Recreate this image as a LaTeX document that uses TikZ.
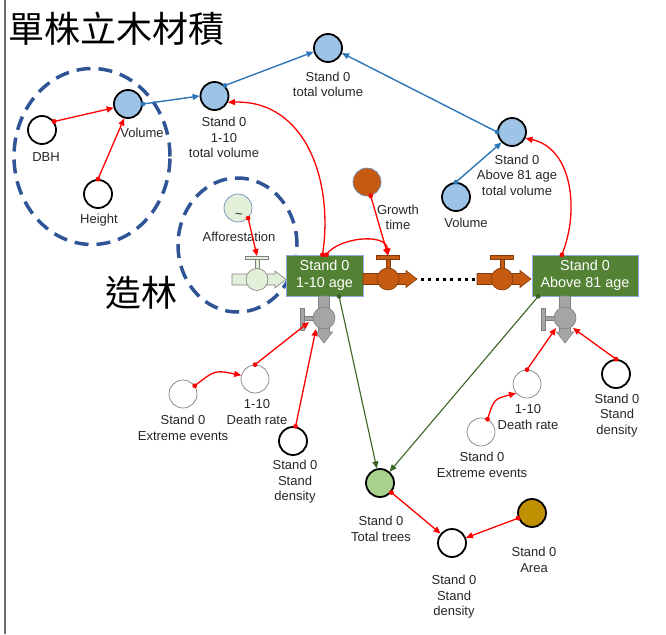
\documentclass[tikz,border=0pt]{standalone}
\usepackage{fontspec}
\setmainfont{Liberation Sans}
\newfontfamily\cjk{Noto Sans CJK TC}
\usetikzlibrary{arrows.meta}

\definecolor{linkred}{HTML}{FF0000}
\definecolor{linkblue}{HTML}{2E75B6}
\definecolor{linkgreen}{HTML}{3B6324}
\definecolor{zoneblue}{HTML}{2F5597}
\definecolor{volblue}{HTML}{9DC3E6}
\definecolor{stockgreen}{HTML}{548235}
\definecolor{stockedge}{HTML}{8FAADC}
\definecolor{treegreen}{HTML}{A9D18E}
\definecolor{areagold}{HTML}{BF9000}
\definecolor{groworange}{HTML}{C55A11}
\definecolor{growedge}{HTML}{843C0C}
\definecolor{sourcegreen}{HTML}{E2F0D9}
\definecolor{valvegray}{HTML}{A5A5A5}
\definecolor{valveedge}{HTML}{7F7F7F}
\definecolor{softedge}{HTML}{6F8FBF}
\definecolor{labeltext}{HTML}{262626}
\definecolor{framegray}{HTML}{6E6E6E}

% horizontal pipe with an arrow head: x start, x tip, y, fill, stroke
\newcommand\hpipe[5]{%
  \filldraw[fill=#4,draw=#5,line width=0.6pt]
    (#1,#3-5.5) -- (#2-11,#3-5.5) -- (#2-11,#3-8.5) -- (#2,#3)
    -- (#2-11,#3+8.5) -- (#2-11,#3+5.5) -- (#1,#3+5.5) -- cycle;}
% valve handle standing on top of a horizontal pipe: x, y, fill, stroke
\newcommand\uphandle[4]{%
  \filldraw[fill=#3,draw=#4,line width=0.6pt] (#1-2,#2-10) rectangle (#1+2,#2-20);
  \filldraw[fill=#3,draw=#4,line width=0.6pt] (#1-11.5,#2-20) rectangle (#1+11.5,#2-23.5);}
% vertical pipe pointing down: x, y start, y tip, fill, stroke
\newcommand\vpipe[5]{%
  \filldraw[fill=#4,draw=#5,line width=0.6pt]
    (#1-5.5,#2) -- (#1-5.5,#3-11) -- (#1-8.5,#3-11) -- (#1,#3)
    -- (#1+8.5,#3-11) -- (#1+5.5,#3-11) -- (#1+5.5,#2) -- cycle;}
% valve handle on the left side of a vertical pipe: x, y, fill, stroke
\newcommand\lefthandle[4]{%
  \filldraw[fill=#3,draw=#4,line width=0.6pt] (#1-10,#2-2) rectangle (#1-20,#2+2);
  \filldraw[fill=#3,draw=#4,line width=0.6pt] (#1-20,#2-10) rectangle (#1-23.5,#2+12);}
% round dot marking where a link leaves its source: colour, point
\newcommand\linkdot[2]{\fill[#1] #2 circle[radius=2.4pt];}

\begin{document}
\begin{tikzpicture}[x=1pt,y=-1pt,
  circ/.style={circle,minimum size=28pt,inner sep=0pt,draw=black,line width=1.8pt},
  thincirc/.style={circle,minimum size=28pt,inner sep=0pt,draw=valveedge,line width=0.7pt,fill=white},
  softcirc/.style={circle,minimum size=28pt,inner sep=0pt,draw=softedge,line width=0.7pt},
  valvecirc/.style={circle,minimum size=22pt,inner sep=0pt,line width=0.6pt},
  lbl/.style={font=\fontsize{13}{15.5}\selectfont,align=center,inner sep=0pt,text=labeltext},
  stock/.style={rectangle,fill=stockgreen,draw=stockedge,line width=0.6pt,text=white,
    align=center,font=\fontsize{14.4}{17}\selectfont,inner sep=0pt,minimum height=41pt},
  cjktitle/.style={font=\cjk\fontsize{36}{40}\selectfont,inner sep=0pt,text=black},
  zone/.style={draw=zoneblue,line width=3.5pt,dash pattern=on 14pt off 8pt},
  redln/.style={draw=linkred,line width=1.3pt,-{Triangle[length=7pt,width=6pt]}},
  blueln/.style={draw=linkblue,line width=1.4pt,-{Triangle[length=7pt,width=6pt]}},
  greenln/.style={draw=linkgreen,line width=1.1pt,-{Triangle[length=7pt,width=6pt]}},
  dotline/.style={draw=black,line width=3pt,dash pattern=on 3pt off 4.3pt}
]
\useasboundingbox (0,0) rectangle (666,634);

% frame line on the left
\draw[framegray,line width=1.6pt] (5,0) -- (5,634);

% headings
\node[cjktitle,anchor=west] (title) at (8,29) {單株立木材積};
\node[cjktitle] (afftitle) at (141.5,293) {造林};

% dashed grouping zones
\draw[zone] (92,156.5) ellipse [x radius=78pt, y radius=88pt];
\draw[zone] (237.5,245) ellipse [x radius=59.5pt, y radius=67pt];

% ---- single tree volume ----
\node[circ,fill=white] (dbh) at (42,130) {};
\node[lbl] (dbhl) at (46,157) {DBH};
\node[circ,fill=white] (hgt) at (98,194) {};
\node[lbl] (hgtl) at (99,220) {Height};
\node[circ,fill=volblue] (vol) at (128,104) {};
\node[lbl] (voll) at (142,133) {Volume};

% ---- stand volumes ----
\node[circ,fill=volblue] (v110) at (214.5,96) {};
\node[lbl] (v110l) at (224,137.5) {Stand 0\\1-10\\total volume};
\node[circ,fill=volblue] (tv) at (328,48) {};
\node[lbl] (tvl) at (328,84.5) {Stand 0\\total volume};
\node[circ,fill=volblue] (a81) at (512,132) {};
\node[lbl] (a81l) at (517,175) {Stand 0\\Above 81 age\\total volume};
\node[circ,fill=volblue] (volr) at (456,197) {};
\node[lbl] (volrl) at (466,223) {Volume};

% ---- auxiliaries of the flows ----
\node[softcirc,fill=groworange] (gt) at (367,182) {};
\node[lbl] (gtl) at (398,217.5) {Growth\\time};
\node[softcirc,fill=sourcegreen] (af) at (238,208) {};
\node[font=\fontsize{13}{14}\selectfont,inner sep=0pt,text=labeltext] (afsign) at (239,216) {\char"7E};
\node[lbl] (afl) at (239,237) {Afforestation};

% ---- stocks ----
\node[stock,minimum width=77pt] (b1) at (324.5,275.5) {Stand 0\\1-10 age};
\node[stock,minimum width=106pt] (b2) at (585,275.5) {Stand 0\\Above 81 age};

% ---- flows with valves ----
% afforestation inflow
\hpipe{232}{286}{279.5}{sourcegreen}{valveedge}
\uphandle{257}{279.5}{sourcegreen}{valveedge}
\node[valvecirc,fill=sourcegreen,draw=valveedge] (vaf) at (257,279.5) {};
\coordinate (vafh) at (257,256);
% growth outflow of the first class
\hpipe{363}{417}{279}{groworange}{growedge}
\uphandle{388}{279}{groworange}{growedge}
\node[valvecirc,fill=groworange,draw=growedge] (vg1) at (388,279) {};
\coordinate (vg1h) at (388,255.5);
\coordinate (vg1t) at (421,279);
% growth inflow of the last class
\hpipe{477}{531}{279}{groworange}{growedge}
\uphandle{502}{279}{groworange}{growedge}
\node[valvecirc,fill=groworange,draw=growedge] (vg2) at (502,279) {};
\coordinate (vg2s) at (476,279);
\draw[dotline] (vg1t) -- (vg2s);
% death outflows
\vpipe{324}{296}{343}{valvegray}{valveedge}
\lefthandle{324}{318}{valvegray}{valveedge}
\node[valvecirc,fill=valvegray,draw=valveedge] (vd1) at (324,318) {};
\coordinate (vd1a) at (309,322);
\coordinate (vd1b) at (316,329);
\vpipe{565}{296}{343}{valvegray}{valveedge}
\lefthandle{565}{318}{valvegray}{valveedge}
\node[valvecirc,fill=valvegray,draw=valveedge] (vd2) at (565,318) {};
\coordinate (vd2a) at (556,328);
\coordinate (vd2b) at (573,328);

% ---- death of the first class ----
\node[thincirc] (ee1) at (183,394) {};
\node[lbl] (ee1l) at (183,428) {Stand 0\\Extreme events};
\node[thincirc] (dr1) at (255,379) {};
\node[lbl] (dr1l) at (257,412) {1-10\\Death rate};
\node[circ,fill=white] (sd1) at (293,441) {};
\node[lbl] (sd1l) at (295,482) {Stand 0\\Stand\\density};

% ---- death of the last class ----
\node[thincirc] (ee2) at (481,432) {};
\node[lbl] (ee2l) at (482,465) {Stand 0\\Extreme events};
\node[thincirc] (dr2) at (527,384) {};
\node[lbl] (dr2l) at (528,417) {1-10\\Death rate};
\node[circ,fill=white] (sd2) at (616,374) {};
\node[lbl] (sd2l) at (617,415.5) {Stand 0\\Stand\\density};

% ---- trees and density ----
\node[circ,fill=treegreen] (tt) at (380,483) {};
\node[lbl] (ttl) at (381,529) {Stand 0\\Total trees};
\node[circ,fill=white] (sdb) at (452,543) {};
\node[lbl] (sdbl) at (454,597) {Stand 0\\Stand\\density};
\node[circ,fill=areagold] (ar) at (532,513) {};
\node[lbl] (arl) at (534,560) {Stand 0\\Area};

% ---- links ----
\draw[redln] (dbh.35) -- (vol.195);          \linkdot{linkred}{(dbh.35)}
\draw[redln] (hgt.north) -- (vol.255);       \linkdot{linkred}{(hgt.north)}
\draw[blueln] (vol.east) -- (v110.west);     \linkdot{linkblue}{(vol.east)}
\draw[blueln] (v110.45) -- (tv.195);         \linkdot{linkblue}{(v110.45)}
\draw[blueln] (a81.west) -- (tv.-20);        \linkdot{linkblue}{(a81.west)}
\draw[blueln] (volr.north) -- (a81.225);     \linkdot{linkblue}{(volr.north)}

\draw[redln] ([xshift=-2pt]b1.north) .. controls (334,180) and (305,100) .. (v110.-25);
\linkdot{linkred}{([xshift=-2pt]b1.north)}
\draw[redln] ([xshift=2pt]b1.north) .. controls (337,238) and (386,232) .. (vg1h);
\linkdot{linkred}{([xshift=2pt]b1.north)}
\draw[redln] (gt.-75) -- (vg1h);             \linkdot{linkred}{(gt.-75)}
\draw[redln] (af.-45) -- (vafh);             \linkdot{linkred}{(af.-45)}
\draw[redln] (b2.138) .. controls (580,210) and (572,148) .. (a81.-25);
\linkdot{linkred}{(b2.138)}

\draw[redln] (ee1.35) .. controls (215,370) .. (dr1.165);  \linkdot{linkred}{(ee1.35)}
\draw[redln] (dr1.north) -- (vd1a);          \linkdot{linkred}{(dr1.north)}
\draw[redln] (sd1.80) -- (vd1b);             \linkdot{linkred}{(sd1.80)}

\draw[redln] (ee2.63) .. controls (494,399) .. (dr2.220);  \linkdot{linkred}{(ee2.63)}
\draw[redln] (dr2.north) -- (vd2a);          \linkdot{linkred}{(dr2.north)}
\draw[redln] (sd2.north) -- (vd2b);          \linkdot{linkred}{(sd2.north)}

\draw[greenln] (b1.-55) -- (tt);             \linkdot{linkgreen}{(b1.-55)}
\draw[greenln] (b2.204) -- (tt);             \linkdot{linkgreen}{(b2.204)}
\draw[redln] (tt) -- (sdb);                  \linkdot{linkred}{(tt.-40)}
\draw[redln] (ar) -- (sdb);                  \linkdot{linkred}{(ar.200)}
\end{tikzpicture}
\end{document}
